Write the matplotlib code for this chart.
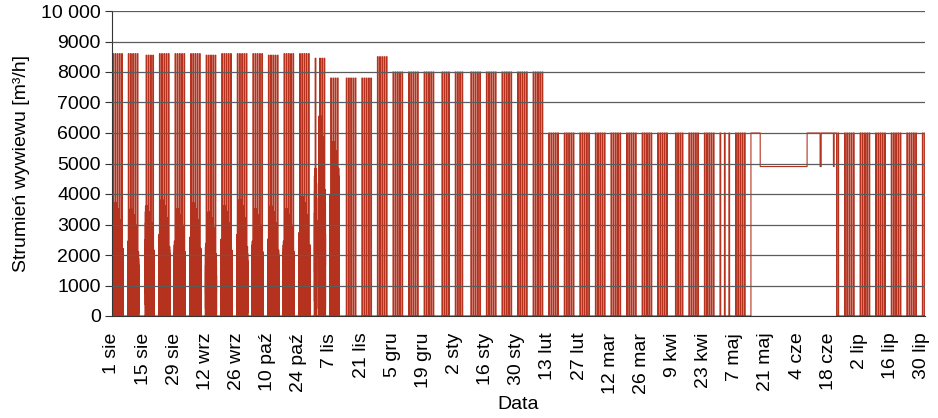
import numpy as np
import pandas as pd
import matplotlib
matplotlib.use('Agg')
import matplotlib.pyplot as plt

plt.rcParams['font.family'] = ['Liberation Sans', 'DejaVu Sans']
plt.rcParams['path.simplify'] = False

# Weekly data, weeks start on Mondays from 1 Aug 2011
first_monday = '2011-08-01'
# daytime exhaust flow per week [m3/h]
week_day_flow = [8600, 8600, 8550, 8600, 8600, 8600, 8550, 8600, 8600, 8600, 8550, 8600, 8600,
                 8450, 7800, 7800, 7800, 8500,
                 8000, 8000, 8000, 8000, 8000, 8000, 8000, 8000, 8000, 8000,
                 6000, 6000, 6000, 6000, 6000, 6000, 6000, 6000, 6000, 6000, 6000, 6000, 6000,
                 6000, 6000, 6000, 6000, 6000, 6000, 6000, 6000, 6000, 6000, 6000, 6000]
# peak of the intermittent night-time operation per week [m3/h]
week_night_flow = [3700, 3500, 3600, 3800, 3500, 3700, 3400, 3600, 3800, 3500, 3600, 3500, 3900,
                   6900, 5700] + [0] * 38
# night peak scaling by weekday (Mon..Fri)
night_weekday = [0.7, 1.0, 0.95, 0.85, 0.6]
# relative level of successive 10-minute steps during night cycling
night_cycle = [0.0, 0.95, 0.1, 0.7, 0.0, 0.85, 0.3, 0.6, 0.0, 1.0, 0.2, 0.5,
               0.0, 0.8, 0.4, 0.9, 0.05, 0.65]

# days off (public holidays)
holidays = ['2011-08-15', '2011-11-01', '2011-11-11', '2011-12-26', '2012-01-06',
            '2012-04-09', '2012-05-01', '2012-05-03', '2012-06-07']

# continuous (day and night) operation in May/June
cont_start = ['2012-05-14 06:00', '2012-05-18 10:00', '2012-06-08 12:00', '2012-06-14 08:00',
              '2012-06-14 20:00', '2012-06-20 08:00', '2012-06-20 16:00']
cont_flow = [6000, 4900, 6000, 4900, 6000, 4900, 6000]
cont_end = '2012-06-21 18:00'

tick_labels = ['1 sie', '15 sie', '29 sie', '12 wrz', '26 wrz', '10 paź', '24 paź', '7 lis',
               '21 lis', '5 gru', '19 gru', '2 sty', '16 sty', '30 sty', '13 lut', '27 lut',
               '12 mar', '26 mar', '9 kwi', '23 kwi', '7 maj', '21 maj', '4 cze', '18 cze',
               '2 lip', '16 lip', '30 lip']

# build the 10-minute series
t = pd.date_range(first_monday, '2012-08-01', freq='10min', inclusive='left')
hour = t.hour + t.minute / 60.0
wk = np.asarray((t - pd.Timestamp(first_monday)).days // 7)
dow = np.asarray(t.dayofweek)
hol = pd.to_datetime(holidays)
workday = (dow < 5) & ~t.normalize().isin(hol)
day_on = workday & (hour >= 8) & (hour < 16)
night_on = workday & ~day_on

day_arr = np.array(week_day_flow)[wk]
night_arr = np.array(week_night_flow)[wk] * np.array(night_weekday + [0, 0])[dow]
step = np.arange(len(t)) % len(night_cycle)
cyc = np.array(night_cycle)[step]

flow = np.where(day_on, day_arr, 0.0)
flow = np.where(night_on, night_arr * cyc, flow)

bounds = list(pd.to_datetime(cont_start)) + [pd.Timestamp(cont_end)]
for i, v in enumerate(cont_flow):
    m = (t >= bounds[i]) & (t < bounds[i + 1])
    flow[m] = v

fig = plt.figure(figsize=(9.38, 4.18), dpi=100)
ax = fig.add_axes([112 / 938, 1 - 316 / 418, (925 - 112) / 938, (316 - 11) / 418])

ax.plot(t, flow, color='#b5321f', lw=0.8, zorder=2)

ax.set_ylim(0, 10000)
ax.set_xlim(pd.Timestamp('2011-08-01'), pd.Timestamp('2012-07-31 12:00'))
ax.set_yticks(np.arange(0, 10001, 1000))
ax.set_yticklabels([str(v) if v < 10000 else '10 000' for v in range(0, 10001, 1000)])

ticks = pd.date_range('2011-08-01', periods=len(tick_labels), freq='14D')
ax.set_xticks(ticks)
ax.set_xticklabels(tick_labels, rotation=90, ha='center', va='top')

ax.yaxis.grid(True, color='#5c5c5c', lw=0.9)
ax.set_axisbelow(False)
for s in ['top', 'right']:
    ax.spines[s].set_visible(False)
ax.spines['left'].set_color('#333333')
ax.spines['bottom'].set_color('#333333')

ax.tick_params(axis='y', length=5, width=0.8, color='#333333', labelsize=14, pad=3)
ax.tick_params(axis='x', length=0, labelsize=14, pad=12)

ax.set_ylabel('Strumień wywiewu [m³/h]', fontsize=14, labelpad=8)
ax.set_xlabel('Data', fontsize=14, labelpad=2)

fig.savefig('out.png', dpi=100)
